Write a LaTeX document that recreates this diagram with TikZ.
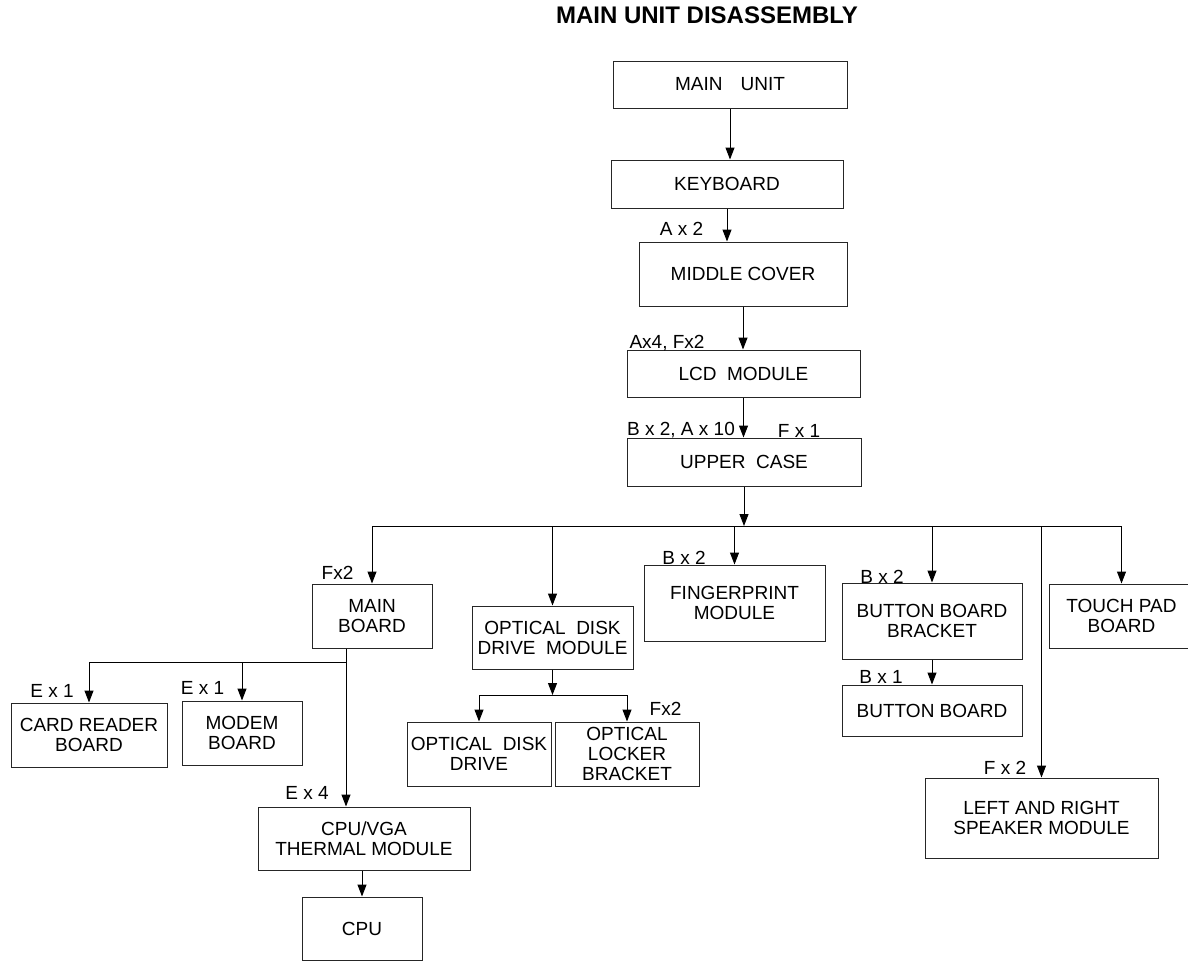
\documentclass[tikz,border=0pt]{standalone}
\usepackage{fontspec}
\setmainfont{Liberation Sans}
\usetikzlibrary{arrows.meta,calc}

\begin{document}
\begin{tikzpicture}[x=1pt,y=-1pt,
  box/.style={draw=black!85,line width=1pt,inner sep=0pt,align=center,font=\fontsize{19}{20}\selectfont},
  lbl/.style={inner sep=0pt,font=\fontsize{19}{20}\selectfont,text height=13.6pt,text depth=0pt},
  wire/.style={line width=1pt},
  arr/.style={line width=1pt,-{Triangle[length=12pt,width=9pt]}}]

\useasboundingbox (0,0) rectangle (1188,962);
\clip (0,0) rectangle (1188,962);

\node[font=\fontsize{24}{24}\selectfont\bfseries] (title) at (707,15) {MAIN UNIT DISASSEMBLY};

\node[box,minimum width=234pt,minimum height=47pt] (mainunit) at (730,84.5) {MAIN\hspace{18pt}UNIT};
\node[box,minimum width=232pt,minimum height=48pt] (keyboard) at (727,184) {KEYBOARD};
\node[box,minimum width=208pt,minimum height=64pt] (middle) at (743,274) {MIDDLE COVER};
\node[box,minimum width=233pt,minimum height=47pt] (lcd) at (743.5,373.5) {LCD\ \ MODULE};
\node[box,minimum width=234pt,minimum height=48pt] (upper) at (744,462) {UPPER\ \ CASE};

\node[box,minimum width=120pt,minimum height=64pt] (mainboard) at (372,616) {MAIN\\BOARD};
\node[box,minimum width=161pt,minimum height=63pt] (oddmod) at (552.5,637.5) {OPTICAL\ \ DISK\\DRIVE\ \ MODULE};
\node[box,minimum width=181pt,minimum height=76pt] (finger) at (734.5,603) {FINGERPRINT\\MODULE};
\node[box,minimum width=180pt,minimum height=76pt] (bracket) at (932,621) {BUTTON BOARD\\BRACKET};
\node[box,minimum width=180pt,minimum height=51pt] (button) at (932,710.5) {BUTTON BOARD};
\node[box,minimum width=145pt,minimum height=64pt] (touchpad) at (1121.5,616) {TOUCH PAD\\BOARD};
\node[box,minimum width=233pt,minimum height=80pt] (speaker) at (1041.5,818) {LEFT AND RIGHT\\SPEAKER MODULE};

\node[box,minimum width=144pt,minimum height=64pt] (oddrive) at (479,754) {OPTICAL\ \ DISK\\DRIVE};
\node[box,minimum width=144pt,minimum height=64pt] (locker) at (627,754) {OPTICAL\\LOCKER\\BRACKET};

\node[box,minimum width=156pt,minimum height=64pt] (cardreader) at (89,735) {CARD READER\\BOARD};
\node[box,minimum width=120pt,minimum height=64pt] (modem) at (242,733) {MODEM\\BOARD};
\node[box,minimum width=212pt,minimum height=63pt] (thermal) at (364,838.5) {CPU/VGA\\THERMAL MODULE};
\node[box,minimum width=120pt,minimum height=63pt] (cpu) at (362,928.5) {CPU};

\node[lbl] (l-kb) at (681.5,229) {A x 2};
\node[lbl] (l-mc) at (667,342) {Ax4, Fx2};
\node[lbl] (l-lcd) at (681,429) {B x 2, A x 10};
\node[lbl] (l-lcd2) at (799,431) {F x 1};
\node[lbl] (l-mb) at (337.5,573) {Fx2};
\node[lbl] (l-fp) at (684,558) {B x 2};
\node[lbl] (l-bb) at (882,577) {B x 2};
\node[lbl] (l-bt) at (881,677) {B x 1};
\node[lbl] (l-sp) at (1005,768) {F x 2};
\node[lbl] (l-lk) at (665.5,709) {Fx2};
\node[lbl] (l-cr) at (52,691) {E x 1};
\node[lbl] (l-md) at (202.5,688) {E x 1};
\node[lbl] (l-th) at (307,793) {E x 4};

\draw[arr] (mainunit.south) -- (mainunit.south |- keyboard.north);
\draw[arr] (keyboard.south) -- (keyboard.south |- middle.north);
\draw[arr] (middle.south) -- (middle.south |- lcd.north);
\draw[arr] (lcd.south) -- (lcd.south |- upper.north);

\coordinate (bus) at (744,526);
\draw[arr] (upper.south) -- (bus);
\draw[wire] (mainboard.north |- bus) -- (touchpad.north |- bus);
\foreach \n in {mainboard,oddmod,finger,bracket,speaker,touchpad}
  \draw[arr] (\n.north |- bus) -- (\n.north);

\coordinate (mbjoin) at (346,662);
\draw[arr] (mainboard.south -| mbjoin) -- (thermal.north -| mbjoin);
\draw[wire] (mbjoin) -- (cardreader.north |- mbjoin);
\foreach \n in {cardreader,modem}
  \draw[arr] (\n.north |- mbjoin) -- (\n.north);

\coordinate (oddjoin) at (552.5,695);
\draw[arr] (oddmod.south) -- (oddjoin);
\draw[wire] (oddrive.north |- oddjoin) -- (locker.north |- oddjoin);
\foreach \n in {oddrive,locker}
  \draw[arr] (\n.north |- oddjoin) -- (\n.north);

\draw[arr] (bracket.south) -- (button.north);
\draw[arr] (cpu.north |- thermal.south) -- (cpu.north);

\end{tikzpicture}
\end{document}
